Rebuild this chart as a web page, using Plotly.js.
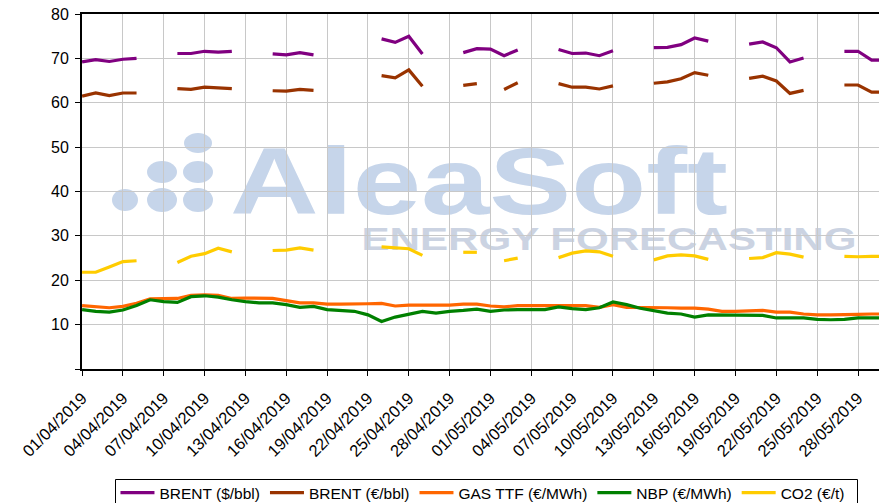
<!DOCTYPE html>
<html>
<head>
<meta charset="utf-8">
<script src="https://cdn.plot.ly/plotly-3.0.1.min.js"></script>
<style>html,body{margin:0;padding:0;background:#fff;}#chart{width:879px;height:503px;}</style>
</head>
<body>
<div id="chart"></div>
<script>
const dates = [
"2019-04-01","2019-04-02","2019-04-03","2019-04-04","2019-04-05","2019-04-06","2019-04-07","2019-04-08","2019-04-09","2019-04-10",
"2019-04-11","2019-04-12","2019-04-13","2019-04-14","2019-04-15","2019-04-16","2019-04-17","2019-04-18","2019-04-19","2019-04-20",
"2019-04-21","2019-04-22","2019-04-23","2019-04-24","2019-04-25","2019-04-26","2019-04-27","2019-04-28","2019-04-29","2019-04-30",
"2019-05-01","2019-05-02","2019-05-03","2019-05-04","2019-05-05","2019-05-06","2019-05-07","2019-05-08","2019-05-09","2019-05-10",
"2019-05-11","2019-05-12","2019-05-13","2019-05-14","2019-05-15","2019-05-16","2019-05-17","2019-05-18","2019-05-19","2019-05-20",
"2019-05-21","2019-05-22","2019-05-23","2019-05-24","2019-05-25","2019-05-26","2019-05-27","2019-05-28","2019-05-29","2019-05-30"];

const brentUsd = [
69.2,69.7,69.3,69.8,70.0,null,null,
71.1,71.1,71.6,71.4,71.6,null,null,
71.0,70.8,71.3,70.8,null,null,null,null,
74.4,73.6,75.0,71.0,null,null,
71.3,72.2,72.1,70.6,71.9,null,null,
72.0,71.1,71.2,70.6,71.7,null,null,
72.4,72.5,73.1,74.6,73.9,null,null,
73.2,73.7,72.4,69.2,70.1,null,null,
71.6,71.6,69.6,69.6];

const brentEur = [
61.5,62.2,61.6,62.2,62.2,null,null,
63.2,63.0,63.5,63.3,63.2,null,null,
62.7,62.6,63.0,62.8,null,null,null,null,
66.1,65.6,67.4,63.7,null,null,
63.9,64.3,null,63.0,64.5,null,null,
64.3,63.5,63.5,63.1,63.8,null,null,
64.4,64.7,65.4,66.8,66.2,null,null,
65.5,66.0,64.9,62.1,62.8,null,null,
64.0,64.0,62.4,62.4];

const gasTtf = [
14.3,14.1,13.8,14.1,14.8,15.8,15.8,15.9,16.6,16.7,
16.6,15.9,16.0,15.9,15.9,15.4,14.9,14.9,14.6,14.6,
14.6,14.7,14.8,14.2,14.4,14.4,14.4,14.4,14.6,14.6,
14.2,14.0,14.3,14.3,14.3,14.3,14.2,14.3,13.9,14.5,
13.9,13.9,13.9,13.8,13.7,13.7,13.5,13.0,13.0,13.1,
13.2,12.8,12.8,12.4,12.2,12.2,12.2,12.3,12.4,12.4];

const nbp = [
13.4,13.0,12.8,13.3,14.3,15.6,15.2,15.0,16.3,16.5,
16.2,15.6,15.2,14.9,14.9,14.5,13.9,14.1,13.4,13.2,
13.0,12.2,10.7,11.7,12.4,13.0,12.6,13.0,13.2,13.5,
13.0,13.3,13.4,13.4,13.4,14.0,13.6,13.4,13.8,15.1,
14.5,13.7,13.2,12.6,12.4,11.7,12.2,12.2,12.2,12.2,
12.1,11.5,11.5,11.5,11.2,11.1,11.2,11.5,11.5,11.5];

const co2 = [
21.8,21.8,23.0,24.2,24.4,null,null,
24.0,25.4,26.0,27.2,26.4,null,null,
26.7,26.8,27.3,26.8,null,null,null,null,
27.5,27.3,27.1,25.6,null,null,
26.3,26.3,null,24.4,25.0,null,null,
25.1,26.1,26.6,26.4,25.4,null,null,
24.6,25.5,25.7,25.5,24.7,null,null,
24.9,25.1,26.2,25.9,25.2,null,null,
25.4,25.3,25.4,25.4];

const seriesNames = ["BRENT ($/bbl)","BRENT (€/bbl)","GAS TTF (€/MWh)","NBP (€/MWh)","CO2 (€/t)"];
const seriesData = [brentUsd, brentEur, gasTtf, nbp, co2];
const seriesColors = ["#800080","#993300","#ff6600","#008000","#ffcc00"];
const yTicks = [0,10,20,30,40,50,60,70,80];
const yTickText = ["","10","20","30","40","50","60","70","80"];

const traces = seriesNames.map((n,i)=>({
  type:"scatter", mode:"lines", name:n, x:dates, y:seriesData[i],
  connectgaps:false, line:{color:seriesColors[i], width:3.2}
}));

// plot-area pixel geometry for watermark / legend frame placement
const L=82, T=14, W=797, H=355;
const px = v => (v-L)/W;
const py = v => (T+H-v)/H;
const wmColor = "#c6d5ea";
function dot(cx,cy,rx,ry){
  return {type:"circle", xref:"paper", yref:"paper", layer:"below",
    x0:px(cx-rx), x1:px(cx+rx), y0:py(cy+ry), y1:py(cy-ry),
    fillcolor:wmColor, line:{width:0}};
}
const FONT = "Liberation Sans, Arial, sans-serif";
const shapes = [
  dot(198,143,14,10), dot(162,172,15,11), dot(198,172,15,11),
  dot(125,200,13,11), dot(162,200,15,12), dot(198,200,15,12),
  {type:"rect", xref:"paper", yref:"paper", layer:"below",
   x0:px(230), x1:px(728), y0:py(215), y1:py(129), line:{width:0}, fillcolor:"rgba(0,0,0,0)",
   label:{text:"AleaSoft", textposition:"middle center",
     font:{family:FONT, size:95, color:wmColor, weight:"bold"}}},
  {type:"rect", xref:"paper", yref:"paper", layer:"below",
   x0:px(360), x1:px(858), y0:py(252), y1:py(220), line:{width:0}, fillcolor:"rgba(0,0,0,0)",
   label:{text:"ENERGY FORECASTING", textposition:"middle center",
     font:{family:FONT, size:32, color:"#cbd3e2", weight:"bold"}}},
  // legend frame
  {type:"rect", xref:"paper", yref:"paper", layer:"above",
   x0:px(115.5), x1:px(857.5), y0:py(512), y1:py(479.5), line:{width:1, color:"#000"}, fillcolor:"rgba(0,0,0,0)"}
];

const layout = {
  width:879, height:503,
  margin:{l:82, r:0, t:14, b:134, pad:0, autoexpand:false},
  paper_bgcolor:"#fff", plot_bgcolor:"#fff",
  font:{family:FONT, color:"#000", size:14},
  showlegend:true,
  xaxis:{type:"date", range:["2019-03-31 23:50","2019-05-29 13:00"],
    tick0:"2019-04-01", dtick:3*86400000, tickformat:"%d/%m/%Y", tickangle:-45,
    ticks:"outside", ticklen:5, tickcolor:"#000", tickwidth:1, ticklabelstandoff:6,
    showline:true, linecolor:"#000", linewidth:2, mirror:true,
    showgrid:true, gridcolor:"#c8c8c8", gridwidth:1, zeroline:false,
    tickfont:{size:16.5, family:FONT, color:"#000"}, automargin:false},
  yaxis:{range:[0,80], tickmode:"array", tickvals:yTicks, ticktext:yTickText,
    ticks:"outside", ticklen:5, tickcolor:"#000", tickwidth:1, ticklabelstandoff:3,
    showline:true, linecolor:"#000", linewidth:2, mirror:false,
    showgrid:true, gridcolor:"#c8c8c8", gridwidth:1, zeroline:false,
    tickfont:{size:16, family:FONT, color:"#000"}, automargin:false},
  legend:{orientation:"h", x:0.042, xanchor:"left", y:-0.3014, yanchor:"top",
    borderwidth:0, bgcolor:"rgba(0,0,0,0)", itemwidth:34,
    font:{size:15.5, family:FONT, color:"#000"}},
  shapes:shapes
};

Plotly.newPlot("chart", traces, layout, {displayModeBar:false, staticPlot:true}).then(()=>{
  document.querySelectorAll("#chart text").forEach(t=>{
    if(t.textContent==="AleaSoft"){t.setAttribute("textLength","498");t.setAttribute("lengthAdjust","spacingAndGlyphs");}
    if(t.textContent==="ENERGY FORECASTING"){t.setAttribute("textLength","495");t.setAttribute("lengthAdjust","spacingAndGlyphs");}
  });
});
</script>
</body>
</html>
